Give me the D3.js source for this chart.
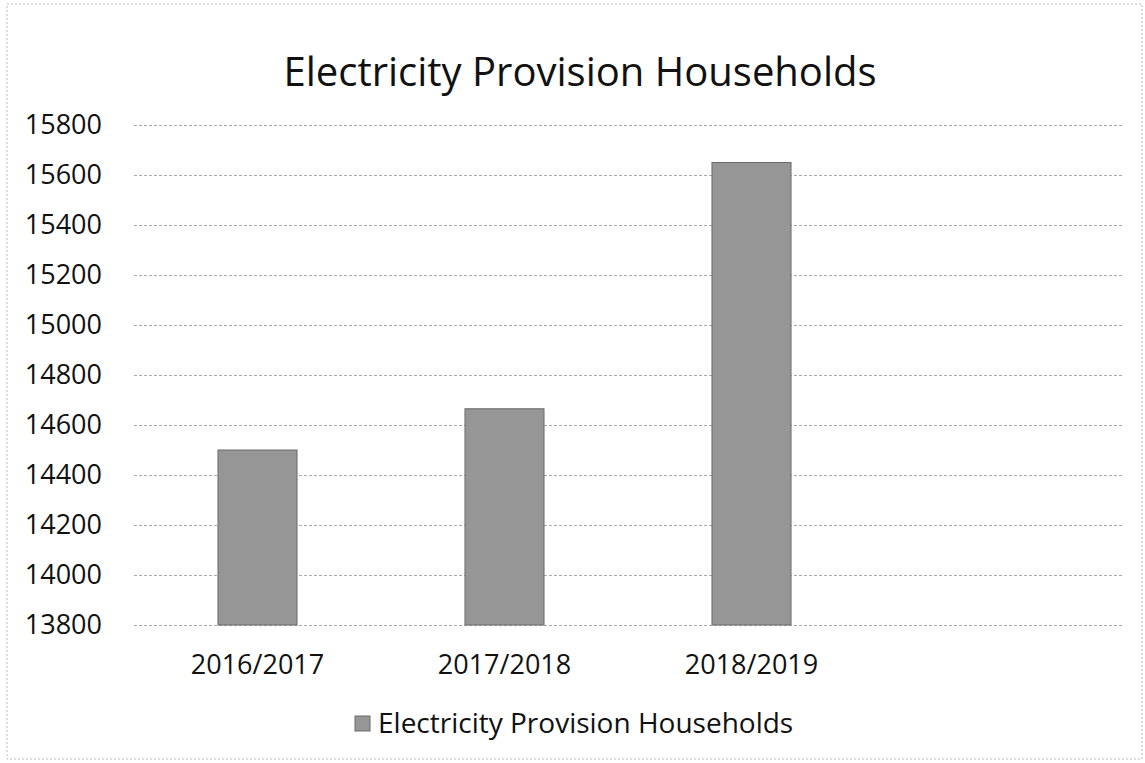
<!DOCTYPE html>
<html>
<head>
<meta charset="utf-8">
<script src="https://cdn.jsdelivr.net/npm/d3@7"></script>
<style>
  body { margin: 0; background: #fff; }
  text { font-family: "Open Sans", "Noto Sans", sans-serif; fill: #111; }
</style>
</head>
<body>
<div id="chart"></div>
<script>
// data
var categories = ["2016/2017", "2017/2018", "2018/2019", ""];
var households = [14500, 14665, 15650, null];
var yTicks = [13800, 14000, 14200, 14400, 14600, 14800, 15000, 15200, 15400, 15600, 15800];
var seriesName = "Electricity Provision Households";

var W = 1145, H = 763;
var margin = { top: 125, right: 23, bottom: 138, left: 134 };
var width = W - margin.left - margin.right;
var height = H - margin.top - margin.bottom;

var svg = d3.select("#chart")
  .append("svg")
    .attr("width", W)
    .attr("height", H);

// chart frame
svg.append("rect")
  .attr("x", 7).attr("y", 4)
  .attr("width", W - 10).attr("height", H - 8)
  .attr("fill", "none")
  .attr("stroke", "#bbb")
  .attr("stroke-dasharray", "2,2");

svg.append("text")
  .attr("x", 580)
  .attr("y", 86)
  .attr("text-anchor", "middle")
  .style("font-size", "40px")
  .text("Electricity Provision Households");

var g = svg.append("g")
  .attr("transform", "translate(" + margin.left + "," + margin.top + ")");

var x = d3.scaleBand()
  .domain(categories.map((d, i) => i))
  .range([0, width])
  .paddingInner(0.68)
  .paddingOuter(0.34);

var y = d3.scaleLinear()
  .domain([13800, 15800])
  .range([height, 0]);

// gridlines + y labels
g.append("g")
  .attr("class", "grid")
  .call(d3.axisLeft(y)
    .tickValues(yTicks)
    .tickSize(-width)
    .tickPadding(32)
    .tickFormat(d => d))
  .call(a => a.select(".domain").remove())
  .call(a => a.selectAll("line")
    .attr("stroke", "#aaa")
    .attr("stroke-dasharray", "3,2"))
  .call(a => a.selectAll("text")
    .style("font-size", "27px")
    .attr("fill", "#111"));

// bars
g.append("g")
  .attr("fill", "#969696")
  .attr("stroke", "#6a6a6a")
  .attr("stroke-width", 1)
  .selectAll("rect")
  .data(households)
  .enter()
    .filter(d => d != null)
    .append("rect")
    .attr("x", (d, i) => x(i))
    .attr("y", d => y(d))
    .attr("height", d => y(13800) - y(d))
    .attr("width", x.bandwidth());

// x labels
g.append("g")
  .attr("transform", "translate(0," + height + ")")
  .call(d3.axisBottom(x)
    .tickSize(0)
    .tickPadding(30)
    .tickFormat(i => categories[i]))
  .call(a => a.select(".domain").remove())
  .call(a => a.selectAll("text")
    .style("font-size", "27px")
    .attr("fill", "#111"));

// legend
var legend = svg.append("g")
  .attr("transform", "translate(355,716)");

legend.append("rect")
  .attr("width", 15).attr("height", 15)
  .attr("fill", "#969696")
  .attr("stroke", "#6a6a6a");

legend.append("text")
  .attr("x", 23)
  .attr("y", 17)
  .style("font-size", "28px")
  .text(seriesName);
</script>
</body>
</html>
